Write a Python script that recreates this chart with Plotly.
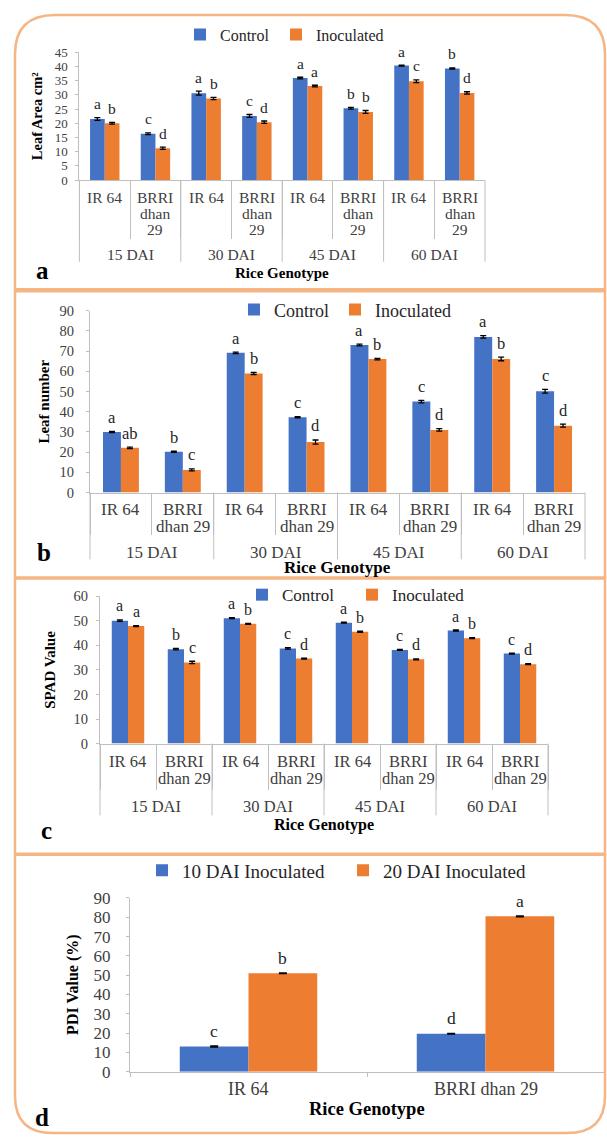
import plotly.graph_objects as go

W, H = 607, 1145
FONT = "Liberation Serif"
BLUE = "#4472C4"
ORANGE = "#ED7D31"
FRAME = "#F5B584"
AXIS = "#BFBFBF"
TXT = "#262626"
BARGAP = 0.42

# ---------------- data ----------------
dai_groups = ["15 DAI", "30 DAI", "45 DAI", "60 DAI"]
genotypes = ["IR 64", "BRRI dhan 29"]
series_names = ["Control", "Inoculated"]

leaf_area_control = [21.5, 16.3, 30.6, 22.6, 35.9, 25.3, 40.3, 39.3]
leaf_area_inoc = [20.0, 11.2, 28.7, 20.4, 33.1, 24.0, 34.8, 30.7]
leaf_area_control_err = [0.5, 0.3, 0.7, 0.5, 0.3, 0.3, 0.2, 0.2]
leaf_area_inoc_err = [0.3, 0.4, 0.4, 0.4, 0.3, 0.5, 0.5, 0.4]
leaf_area_control_sig = ["a", "c", "a", "c", "a", "b", "a", "b"]
leaf_area_inoc_sig = ["b", "d", "b", "d", "a", "b", "c", "d"]

leaf_num_control = [30.0, 20.2, 69.1, 37.2, 73.0, 45.0, 77.0, 50.1]
leaf_num_inoc = [22.1, 11.2, 58.9, 25.0, 66.0, 31.0, 66.1, 33.1]
leaf_num_control_err = [0.3, 0.3, 0.4, 0.3, 0.4, 0.6, 0.6, 0.9]
leaf_num_inoc_err = [0.4, 0.5, 0.5, 1.0, 0.4, 0.6, 0.9, 0.7]
leaf_num_control_sig = ["a", "b", "a", "c", "a", "c", "a", "c"]
leaf_num_inoc_sig = ["ab", "c", "b", "d", "b", "d", "b", "d"]

spad_control = [50.0, 38.4, 51.0, 38.7, 49.2, 38.1, 46.0, 36.6]
spad_inoc = [47.8, 33.0, 48.7, 34.6, 45.5, 34.3, 42.9, 32.3]
spad_control_err = [0.3, 0.3, 0.2, 0.3, 0.2, 0.2, 0.2, 0.2]
spad_inoc_err = [0.2, 0.5, 0.2, 0.2, 0.2, 0.2, 0.2, 0.2]
spad_control_sig = ["a", "b", "a", "c", "a", "c", "a", "c"]
spad_inoc_sig = ["a", "c", "b", "d", "b", "d", "b", "d"]

pdi_series = ["10 DAI Inoculated", "20 DAI Inoculated"]
pdi_10 = [13.1, 19.7]
pdi_20 = [51.0, 80.5]
pdi_10_err = [0.3, 0.2]
pdi_20_err = [0.2, 0.2]
pdi_10_sig = ["c", "d"]
pdi_20_sig = ["b", "a"]

y_titles = ["Leaf Area cm²", "Leaf number", "SPAD Value", "PDI Value (%)"]
x_title = "Rice Genotype"
panel_letters = ["a", "b", "c", "d"]

# ---------------- helpers ----------------
def fx(px):
    return px / W

def fy(py):
    return 1 - py / H

def P(x, y):
    return f"{fx(x):.5f},{fy(y):.5f}"

cats = [f"{g} | {d}" for d in dai_groups for g in genotypes]

fig = go.Figure()
annotations = []
shapes = []
legend_count = [0]

def new_legend(x_text, y_mid, size):
    legend_count[0] += 1
    n = legend_count[0]
    name = "legend" if n == 1 else f"legend{n}"
    fig.layout[name] = dict(
        orientation="h", x=fx(x_text - 44), y=fy(y_mid), xanchor="left", yanchor="middle",
        xref="paper", yref="paper", font=dict(family=FONT, size=size, color=TXT),
        bgcolor="rgba(0,0,0,0)", itemwidth=30, borderwidth=0)
    return name

def add_sig(xcats, vals, errs, sig, s, xa, ya, cat_px, size, shift):
    bw = cat_px * (1 - BARGAP) / 2
    off = (-0.5 + s) * bw
    for xc, v, e, t in zip(xcats, vals, errs, sig):
        annotations.append(dict(x=xc, y=v + e, xref=xa, yref=ya, text=t, showarrow=False,
                                xanchor="center", yanchor="middle", xshift=off, yshift=shift,
                                font=dict(family=FONT, size=size, color=TXT)))

# panel geometry (pixels) and styles
panels = [
    dict(ax="", x0=79.4, x1=485, ybase=174, ytop=44, ymax=45, dtick=5,
         tick=13, lab=15.5, leg=16, sig=15.5, ttl=14.5, xt=15,
         lab_off=[17, 33, 49], grp_off=74, short=58, long=83,
         wrap={"IR 64": ["IR 64"], "BRRI dhan 29": ["BRRI", "dhan", "29"]},
         xt_y=268, ytl_x=37, let_xy=(42, 266), leg_text=(224, 320), leg_y=26, standoff=5,
         data=(leaf_area_control, leaf_area_inoc, leaf_area_control_err, leaf_area_inoc_err,
               leaf_area_control_sig, leaf_area_inoc_sig)),
    dict(ax="2", x0=90, x1=585, ybase=491.7, ytop=306.7, ymax=90, dtick=10,
         tick=14.5, lab=17, leg=18, sig=16.5, ttl=15, xt=17,
         lab_off=[16.5, 33.5], grp_off=59.5, short=41, long=68,
         wrap={"IR 64": ["IR 64"], "BRRI dhan 29": ["BRRI", "dhan 29"]},
         xt_y=568, ytl_x=44, let_xy=(44, 553), leg_text=(278, 379), leg_y=306, standoff=9,
         data=(leaf_num_control, leaf_num_inoc, leaf_num_control_err, leaf_num_inoc_err,
               leaf_num_control_sig, leaf_num_inoc_sig)),
    dict(ax="3", x0=100, x1=548, ybase=747, ytop=597, ymax=60, dtick=10,
         tick=14.5, lab=16.5, leg=17, sig=16, ttl=15, xt=16,
         lab_off=[18, 35], grp_off=63, short=45, long=73,
         wrap={"IR 64": ["IR 64"], "BRRI dhan 29": ["BRRI", "dhan 29"]},
         xt_y=830, ytl_x=50, let_xy=(46, 835), leg_text=(286, 396), leg_y=596, standoff=5,
         data=(spad_control, spad_inoc, spad_control_err, spad_inoc_err,
               spad_control_sig, spad_inoc_sig)),
]

for k, p in enumerate(panels):
    xa = "x" + p["ax"]
    ya = "y" + p["ax"]
    cat_px = (p["x1"] - p["x0"]) / len(cats)
    c, i, ce, ie, cs, isg = p["data"]
    for s, (name, vals, errs, sig, col) in enumerate(
            [(series_names[0], c, ce, cs, BLUE), (series_names[1], i, ie, isg, ORANGE)]):
        legname = new_legend(p["leg_text"][s], p["leg_y"], p["leg"])
        fig.add_trace(go.Bar(
            x=cats, y=vals, name=name, marker=dict(color=col, line=dict(width=0)),
            error_y=dict(type="data", array=errs, color="#000000", thickness=1.3, width=3),
            xaxis=xa, yaxis=ya, legend=legname,
        ))
        add_sig(cats, vals, errs, sig, s, xa, ya, cat_px, p["sig"], 14)
    ph = p["ybase"] - p["ytop"]
    fig.layout[f"xaxis{p['ax']}"] = dict(
        domain=[fx(p["x0"]), fx(p["x1"])], anchor=ya, type="category",
        categoryorder="array", categoryarray=cats, range=[-0.5, len(cats) - 0.5],
        showline=True, linecolor=AXIS, linewidth=1, showgrid=False, zeroline=False,
        ticks="outside", tickson="boundaries", ticklen=p["short"], tickcolor=AXIS,
        tickwidth=1, showticklabels=False, fixedrange=True)
    fig.layout[f"yaxis{p['ax']}"] = dict(
        domain=[fy(p["ybase"]), fy(p["ytop"])], anchor=xa, range=[0, p["ymax"]],
        dtick=p["dtick"], tick0=0, showline=True, linecolor=AXIS, linewidth=1,
        showgrid=False, zeroline=False, ticks="outside", ticklen=3, tickcolor=AXIS,
        ticklabelstandoff=p["standoff"],
        tickfont=dict(family=FONT, size=p["tick"], color="#404040"), fixedrange=True)
    for ci, cat in enumerate(cats):
        geno = genotypes[ci % len(genotypes)]
        for li, line in enumerate(p["wrap"][geno]):
            annotations.append(dict(
                x=cat, y=0, xref=xa, yref=f"{ya} domain", text=line, showarrow=False,
                xanchor="center", yanchor="middle", yshift=-p["lab_off"][li],
                font=dict(family=FONT, size=p["lab"], color="#404040")))
    n_g = len(genotypes)
    for gi, grp in enumerate(dai_groups):
        annotations.append(dict(
            x=gi * n_g + (n_g - 1) / 2, y=0, xref=xa, yref=f"{ya} domain", text=grp,
            showarrow=False, xanchor="center", yanchor="middle", yshift=-p["grp_off"],
            font=dict(family=FONT, size=p["lab"], color="#404040")))
    for gi in range(len(dai_groups) + 1):
        xb = gi * n_g / len(cats)
        shapes.append(dict(type="line", xref=f"{xa} domain", yref=f"{ya} domain",
                           x0=xb, x1=xb, y0=0, y1=-p["long"] / ph,
                           line=dict(color=AXIS, width=1)))
    annotations.append(dict(x=fx((p["x0"] + p["x1"]) / 2), y=fy(p["xt_y"]), xref="paper",
                            yref="paper", text=x_title, showarrow=False, xanchor="center",
                            yanchor="middle",
                            font=dict(family=FONT, size=p["xt"], color="#000000", weight="bold")))
    annotations.append(dict(x=fx(p["ytl_x"]), y=fy((p["ybase"] + p["ytop"]) / 2),
                            xref="paper", yref="paper", text=y_titles[k], showarrow=False,
                            textangle=-90, xanchor="center", yanchor="middle",
                            font=dict(family=FONT, size=p["ttl"], color="#000000", weight="bold")))
    annotations.append(dict(x=fx(p["let_xy"][0]), y=fy(p["let_xy"][1]), xref="paper",
                            yref="paper", text=panel_letters[k], showarrow=False,
                            xanchor="center", yanchor="middle",
                            font=dict(family=FONT, size=25, color="#000000", weight="bold")))

# ---------------- panel d ----------------
d = dict(x0=130, x1=604, ybase=1080.7, ytop=904)
cat_px_d = (d["x1"] - d["x0"]) / len(genotypes)
for s, (name, vals, errs, sig, col) in enumerate(
        [(pdi_series[0], pdi_10, pdi_10_err, pdi_10_sig, BLUE),
         (pdi_series[1], pdi_20, pdi_20_err, pdi_20_sig, ORANGE)]):
    legname = new_legend([186, 387][s], 876, 19)
    fig.add_trace(go.Bar(
        x=genotypes, y=vals, name=name, marker=dict(color=col, line=dict(width=0)),
        error_y=dict(type="data", array=errs, color="#000000", thickness=1.3, width=4),
        xaxis="x4", yaxis="y4", legend=legname))
    add_sig(genotypes, vals, errs, sig, s, "x4", "y4", cat_px_d, 17.5, 15)
fig.layout.xaxis4 = dict(domain=[fx(d["x0"]), fx(d["x1"])], anchor="y4", type="category",
                         showline=True, linecolor=AXIS, showgrid=False, zeroline=False,
                         ticks="outside", tickson="boundaries", ticklen=4, tickcolor=AXIS,
                         showticklabels=False, fixedrange=True)
fig.layout.yaxis4 = dict(domain=[fy(d["ybase"]), fy(d["ytop"])], anchor="x4", range=[0, 90],
                         dtick=10, showline=True, linecolor=AXIS, showgrid=False,
                         zeroline=False, ticks="outside", ticklen=3, tickcolor=AXIS,
                         ticklabelstandoff=12,
                         tickfont=dict(family=FONT, size=17, color="#404040"), fixedrange=True)
for g in genotypes:
    annotations.append(dict(x=g, y=0, xref="x4", yref="y4 domain", text=g, showarrow=False,
                            xanchor="center", yanchor="middle", yshift=-17.5,
                            font=dict(family=FONT, size=18, color="#404040")))
annotations.append(dict(x=fx((d["x0"] + d["x1"]) / 2), y=fy(1119), xref="paper", yref="paper",
                        text=x_title, showarrow=False, xanchor="center", yanchor="middle",
                        font=dict(family=FONT, size=18.5, color="#000000", weight="bold")))
annotations.append(dict(x=fx(73), y=fy((d["ybase"] + d["ytop"]) / 2), xref="paper",
                        yref="paper", text=y_titles[3], showarrow=False, textangle=-90,
                        xanchor="center", yanchor="middle",
                        font=dict(family=FONT, size=16, color="#000000", weight="bold")))
annotations.append(dict(x=fx(42), y=fy(1127), xref="paper", yref="paper", text=panel_letters[3],
                        showarrow=False, xanchor="center", yanchor="middle",
                        font=dict(family=FONT, size=25, color="#000000", weight="bold")))

# ---------------- frames ----------------
r = 40
L, R = 15, 605
shapes.append(dict(type="path", xref="paper", yref="paper",
                   path=f"M{P(L,285)} L{P(L,6+r)} Q{P(L,6)} {P(L+r,6)} L{P(R-r,6)} "
                        f"Q{P(R,6)} {P(R,6+r)} L{P(R,285)} Z",
                   line=dict(color=FRAME, width=2.5)))
shapes.append(dict(type="rect", xref="paper", yref="paper", x0=fx(L), x1=fx(R),
                   y0=fy(578), y1=fy(287), line=dict(color=FRAME, width=2.5)))
shapes.append(dict(type="rect", xref="paper", yref="paper", x0=fx(L), x1=fx(R),
                   y0=fy(859), y1=fy(579), line=dict(color=FRAME, width=2.5)))
rb = 38
shapes.append(dict(type="path", xref="paper", yref="paper",
                   path=f"M{P(L,860)} L{P(R,860)} L{P(R,1143-rb)} Q{P(R,1143)} {P(R-rb,1143)} "
                        f"L{P(L+rb,1143)} Q{P(L,1143)} {P(L,1143-rb)} Z",
                   line=dict(color=FRAME, width=2.5)))

fig.update_layout(
    width=W, height=H, autosize=False, margin=dict(l=0, r=0, t=0, b=0),
    paper_bgcolor="white", plot_bgcolor="white", barmode="group", bargap=BARGAP,
    bargroupgap=0, font=dict(family=FONT, color=TXT),
    annotations=annotations, shapes=shapes, showlegend=True,
)

fig.write_html(
    "out.html",
    config={"displayModeBar": False},
    post_script="document.documentElement.style.margin='0';document.body.style.margin='0';"
                "document.body.style.overflow='hidden';",
)
